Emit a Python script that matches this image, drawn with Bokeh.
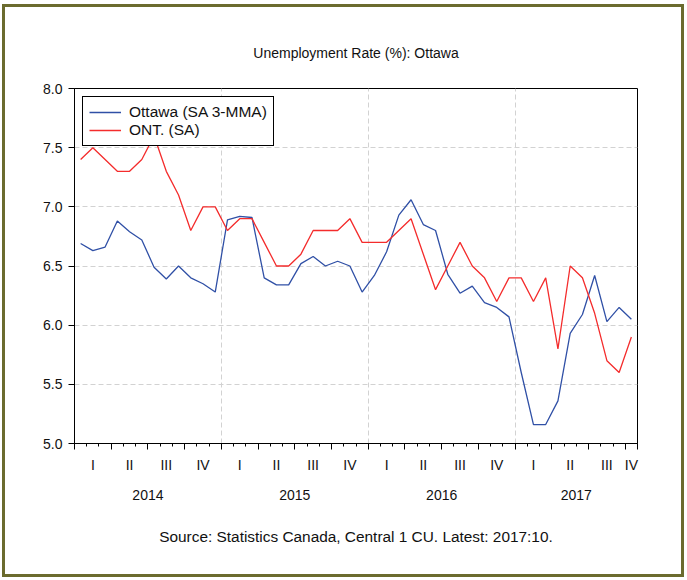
from bokeh.plotting import figure
from bokeh.models import (LinearAxis, FixedTicker, Grid, Legend, LegendItem,
                          PrintfTickFormatter, Range1d, CustomLabelingPolicy)
from bokeh.embed import file_html
from bokeh.resources import INLINE

# ---------------- data ----------------
years = ["2014", "2015", "2016", "2017"]
quarters = ["I", "II", "III", "IV"]
y_ticks = [5.0, 5.5, 6.0, 6.5, 7.0, 7.5, 8.0]

ottawa = [6.69, 6.63, 6.66, 6.88, 6.79, 6.72, 6.49, 6.39, 6.50, 6.40, 6.35, 6.28,
          6.89, 6.92, 6.91, 6.40, 6.34, 6.34, 6.52, 6.58, 6.50, 6.54, 6.50, 6.28,
          6.42, 6.62, 6.93, 7.06, 6.85, 6.80, 6.43, 6.27, 6.33, 6.19, 6.15, 6.07,
          5.60, 5.16, 5.16, 5.36, 5.93, 6.09, 6.42, 6.03, 6.15, 6.05]
ont = [7.4, 7.5, 7.4, 7.3, 7.3, 7.4, 7.6, 7.3, 7.1, 6.8, 7.0, 7.0,
       6.8, 6.9, 6.9, 6.7, 6.5, 6.5, 6.6, 6.8, 6.8, 6.8, 6.9, 6.7,
       6.7, 6.7, 6.8, 6.9, 6.6, 6.3, 6.5, 6.7, 6.5, 6.4, 6.2, 6.4,
       6.4, 6.2, 6.4, 5.8, 6.5, 6.4, 6.1, 5.7, 5.6, 5.9]

title_text = "Unemployment Rate (%): Ottawa"
source_text = "Source: Statistics Canada, Central 1 CU. Latest: 2017:10."
series_names = ["Ottawa (SA 3-MMA)", "ONT. (SA)"]

# ---------------- derived positions ----------------
n = len(ottawa)
x = [i + 0.5 for i in range(n)]
month_bounds = list(range(n + 1))
quarter_bounds = sorted(set(list(range(0, n + 1, 3)) + [n]))
q_centers, q_labels = [], []
for k in range((n + 2) // 3):
    s, e = 3 * k, min(3 * k + 3, n)
    q_centers.append((s + e) / 2)
    q_labels.append(quarters[k % 4])
y_centers, y_labels = [], []
for k, yr in enumerate(years):
    s, e = 12 * k, min(12 * k + 12, n)
    y_centers.append((s + e) / 2)
    y_labels.append(yr)
year_bounds = [12 * k for k in range(1, len(years))]

FONT = "Liberation Sans"
TXT = "#111111"
BLUE = "#3050A6"
RED = "#F42C2C"
OLIVE = "#6B6B2E"

# canvas placed at page (5, 7) inside an olive 3px border
p = figure(width=676, height=567, x_range=Range1d(0, n), y_range=Range1d(5, 8),
           output_backend="svg", toolbar_location=None, title=None,
           x_axis_type=None, y_axis_type=None,
           min_border_left=69, min_border_right=50, min_border_top=81, min_border_bottom=137,
           background_fill_color="white", border_fill_color="white")
p.outline_line_color = "black"
p.outline_line_width = 1
p.styles = {"border": "3px solid " + OLIVE, "box-sizing": "content-box",
            "margin-left": "2px", "margin-top": "4px"}

# grids
p.add_layout(Grid(dimension=1, ticker=FixedTicker(ticks=y_ticks), grid_line_color="#d2d2d2",
                  grid_line_dash="5 3", grid_line_width=1))
p.add_layout(Grid(dimension=0, ticker=FixedTicker(ticks=year_bounds), grid_line_color="#d2d2d2",
                  grid_line_dash="5 3", grid_line_width=1))

# title as the label of an empty top axis
ta = LinearAxis(ticker=FixedTicker(ticks=[]), axis_line_color=None,
                major_tick_line_color=None, minor_tick_line_color=None,
                major_tick_out=0, major_tick_in=0, minor_tick_out=0, minor_tick_in=0,
                major_label_standoff=0,
                axis_label=title_text, axis_label_standoff=28,
                axis_label_text_font=FONT, axis_label_text_font_size="14px",
                axis_label_text_font_style="normal", axis_label_text_color=TXT)
p.add_layout(ta, "above")

# y axis
ya = LinearAxis(ticker=FixedTicker(ticks=y_ticks), formatter=PrintfTickFormatter(format="%.1f"),
                major_tick_out=6, major_tick_in=0, minor_tick_out=0, minor_tick_in=0,
                minor_tick_line_color=None, major_label_standoff=6,
                major_label_text_font=FONT, major_label_text_font_size="14px",
                major_label_text_color=TXT, axis_line_color="black")
p.add_layout(ya, "left")

# x axis: tick marks only (month minor ticks, quarter major ticks)
xa = LinearAxis(ticker=FixedTicker(ticks=quarter_bounds, minor_ticks=month_bounds),
                major_tick_out=6, major_tick_in=0, minor_tick_out=3, minor_tick_in=0,
                major_label_policy=CustomLabelingPolicy(code="return []"),
                major_label_text_font_size="1px", major_label_standoff=0,
                axis_line_color="black")
p.add_layout(xa, "below")

# x axis: quarter labels
xq = LinearAxis(ticker=FixedTicker(ticks=q_centers),
                major_label_overrides={c: l for c, l in zip(q_centers, q_labels)},
                axis_line_color=None, major_tick_line_color=None, minor_tick_line_color=None,
                major_tick_out=0, major_tick_in=0, minor_tick_out=0, minor_tick_in=0,
                major_label_standoff=3, major_label_text_font=FONT,
                major_label_text_font_size="14px", major_label_text_color=TXT)
p.add_layout(xq, "below")

# x axis: year labels, with the source note as its axis label
xy = LinearAxis(ticker=FixedTicker(ticks=y_centers),
                major_label_overrides={c: l for c, l in zip(y_centers, y_labels)},
                axis_line_color=None, major_tick_line_color=None, minor_tick_line_color=None,
                major_tick_out=0, major_tick_in=0, minor_tick_out=0, minor_tick_in=0,
                major_label_standoff=14, major_label_text_font=FONT,
                major_label_text_font_size="14px", major_label_text_color=TXT,
                axis_label=source_text, axis_label_standoff=25,
                axis_label_text_font=FONT, axis_label_text_font_size="15.4px",
                axis_label_text_font_style="normal", axis_label_text_color=TXT)
p.add_layout(xy, "below")

r1 = p.line(x, ottawa, line_color=BLUE, line_width=1.3)
r2 = p.line(x, ont, line_color=RED, line_width=1.3)

legend = Legend(items=[LegendItem(label=series_names[0], renderers=[r1]),
                       LegendItem(label=series_names[1], renderers=[r2])],
                location="top_left", margin=8, padding=6, spacing=-1,
                glyph_width=32, glyph_height=14, label_height=14, label_standoff=8,
                border_line_color="black", border_line_width=1, border_line_alpha=1,
                background_fill_color="white", background_fill_alpha=1,
                label_text_font=FONT, label_text_font_size="15.5px", label_text_color=TXT)
p.add_layout(legend)

open("out.html", "w").write(file_html(p, INLINE))
